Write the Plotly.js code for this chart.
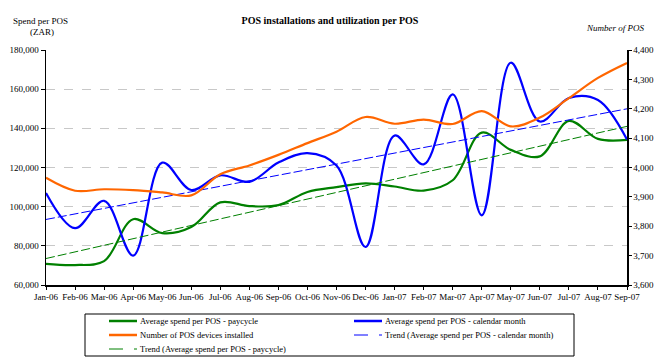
<!DOCTYPE html>
<html><head><meta charset="utf-8">
<script src="https://cdn.plot.ly/plotly-3.0.1.min.js"></script>
<style>html,body{margin:0;padding:0;background:#fff;}#chart{width:660px;height:361px;}</style>
</head><body><div id="chart"></div>
<script>
const months = ["Jan-06","Feb-06","Mar-06","Apr-06","May-06","Jun-06","Jul-06","Aug-06","Sep-06","Oct-06","Nov-06","Dec-06","Jan-07","Feb-07","Mar-07","Apr-07","May-07","Jun-07","Jul-07","Aug-07","Sep-07"];
const spendPaycycle = [70800,70200,72200,93600,86500,89600,102200,100300,100800,107500,110000,111900,110300,108200,113500,137800,129000,125700,143800,134600,134100];
const spendCalendar = [107000,89000,103000,75000,122500,108500,116000,112700,122500,127300,121000,79400,136300,121600,157300,95600,173500,143500,155500,154500,134300];
const posInstalled = [3965,3921,3926,3923,3915,3905,3977,4007,4043,4083,4122,4172,4149,4163,4148,4192,4140,4170,4236,4305,4356];
const leftTicks = [60000,80000,100000,120000,140000,160000,180000];
const rightTicks = [3600,3700,3800,3900,4000,4100,4200,4300,4400];
const seriesNames = ["Average spend per POS - paycycle","Average spend per POS - calendar month","Number of POS devices installed","Trend (Average spend per POS - calendar month)","Trend (Average spend per POS - paycycle)"];
const seriesColors = ["#008000","#0000ff","#ff6600","#0000ff","#008000"];

function linearTrend(ys){
  const n = ys.length; let sx=0, sy=0, sxx=0, sxy=0;
  ys.forEach((y,i)=>{sx+=i; sy+=y; sxx+=i*i; sxy+=i*y;});
  const b = (n*sxy - sx*sy)/(n*sxx - sx*sx);
  const a = (sy - b*sx)/n;
  return ys.map((_,i)=>a+b*i);
}
const idx = months.map((_,i)=>i);
const serif = "Liberation Serif, Times New Roman, serif";

// plot-area geometry (pixels) for paper-coordinate conversion of legend/labels
const W = 660, H = 361, ML = 46, MR = 33, MT = 50, MB = 76;
const PW = W - ML - MR, PH = H - MT - MB;
const px = x => (x - ML) / PW;
const py = y => (H - MB - y) / PH;

const mainLine = {width: 2.2, shape: "spline", smoothing: 1};
const trendDash = "9px,3px";
const traces = [
  {x: idx, y: spendPaycycle, name: seriesNames[0], type: "scatter", mode: "lines",
   line: Object.assign({color: seriesColors[0]}, mainLine)},
  {x: idx, y: spendCalendar, name: seriesNames[1], type: "scatter", mode: "lines",
   line: Object.assign({color: seriesColors[1]}, mainLine)},
  {x: idx, y: posInstalled, name: seriesNames[2], type: "scatter", mode: "lines", yaxis: "y2",
   line: Object.assign({color: seriesColors[2]}, mainLine)},
  {x: idx, y: linearTrend(spendCalendar), name: seriesNames[3], type: "scatter", mode: "lines",
   line: {color: seriesColors[3], width: 1, dash: trendDash}},
  {x: idx, y: linearTrend(spendPaycycle), name: seriesNames[4], type: "scatter", mode: "lines",
   line: {color: seriesColors[4], width: 1, dash: trendDash}}
];

// custom legend (two columns, compact rows like the original)
const legBox = {x0: 85, x1: 574, y0: 314, y1: 356};
const colX = [109, 354];
const rowY = [321, 335, 349];
const legendSlots = [[0,0],[1,0],[0,1],[1,1],[0,2]];
const shapes = [{type: "rect", xref: "paper", yref: "paper", x0: px(legBox.x0), x1: px(legBox.x1),
  y0: py(legBox.y1), y1: py(legBox.y0), line: {color: "#000", width: 1}, fillcolor: "rgba(0,0,0,0)", layer: "above"}];
const annotations = [];
legendSlots.forEach(([c, r], i) => {
  const isTrend = i >= 3;
  shapes.push({type: "line", xref: "paper", yref: "paper", x0: px(colX[c]), x1: px(colX[c] + 28),
    y0: py(rowY[r]), y1: py(rowY[r]),
    line: {color: seriesColors[i], width: isTrend ? 1 : 2.5, dash: isTrend ? "14px,11px" : "solid"}});
  annotations.push({text: seriesNames[i], xref: "paper", yref: "paper", x: px(colX[c] + 29), y: py(rowY[r]),
    xanchor: "left", yanchor: "middle", showarrow: false, font: {family: serif, size: 8.5, color: "#000"}});
});
annotations.push(
  {text: "Spend per POS", xref: "paper", yref: "paper", x: px(40), y: py(21), xanchor: "center", yanchor: "middle",
   showarrow: false, font: {family: serif, size: 9}},
  {text: "(ZAR)", xref: "paper", yref: "paper", x: px(42), y: py(32), xanchor: "center", yanchor: "middle",
   showarrow: false, font: {family: serif, size: 9}},
  {text: "<i>Number of POS</i>", xref: "paper", yref: "paper", x: px(615), y: py(28), xanchor: "center", yanchor: "middle",
   showarrow: false, font: {family: serif, size: 9}}
);

const layout = {
  width: W, height: H,
  margin: {l: ML, r: MR, t: MT, b: MB, autoexpand: false},
  paper_bgcolor: "#fff", plot_bgcolor: "#fff",
  font: {family: serif, size: 9, color: "#000"},
  title: {text: "<b>POS installations and utilization per POS</b>", x: 0.5, xanchor: "center", y: 1 - 20/H, yanchor: "middle",
          font: {family: serif, size: 10, color: "#000"}},
  showlegend: false,
  xaxis: {range: [0, 20], tickvals: idx, ticktext: months, showgrid: false, zeroline: false,
          showline: true, linecolor: "#000", linewidth: 1.5, ticks: "outside", ticklen: 3, tickcolor: "#000",
          tickfont: {family: serif, size: 9}, tickangle: 0},
  yaxis: {range: [60000, 180000], tickvals: leftTicks, tickformat: ",d", showgrid: true, gridcolor: "#c8c8c8",
          griddash: "dash", gridwidth: 1, zeroline: false, showline: true, linecolor: "#000", linewidth: 1.5,
          ticks: "outside", ticklen: 4, tickcolor: "#000", tickfont: {family: serif, size: 9}},
  yaxis2: {range: [3600, 4400], tickvals: rightTicks, tickformat: ",d", overlaying: "y", side: "right",
           showgrid: false, zeroline: false, showline: true, linecolor: "#000", linewidth: 1.5,
           ticks: "outside", ticklen: 3, tickcolor: "#000", tickfont: {family: serif, size: 9}},
  shapes: shapes,
  annotations: annotations
};
Plotly.newPlot("chart", traces, layout, {displayModeBar: false, staticPlot: true});
</script></body></html>
